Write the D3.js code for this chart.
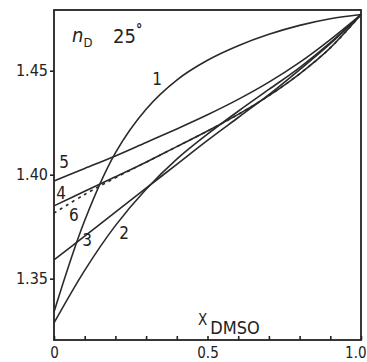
<!DOCTYPE html>
<html>
<head>
<meta charset="utf-8">
<script src="https://cdnjs.cloudflare.com/ajax/libs/d3/7.8.5/d3.min.js"></script>
<style>
  body { margin: 0; background: #fff; }
  text { font-family: "Liberation Sans Narrow", "DejaVu Sans Condensed", sans-serif; fill: #222; }
</style>
</head>
<body>
<div id="chart"></div>
<script>
////////////////////////////////////////////////////////////////
// Data (mole fraction of DMSO vs refractive index n_D at 25 C)

var xDMSO = [0, 0.1, 0.2, 0.3, 0.4, 0.5, 0.6, 0.7, 0.8, 0.9, 1.0];

var nD1 = [1.334, 1.378, 1.4105, 1.4315, 1.4455, 1.455, 1.462, 1.4675, 1.4718, 1.475, 1.477];
var nD2 = [1.3287, 1.354, 1.3755, 1.393, 1.4075, 1.4195, 1.4305, 1.441, 1.4515, 1.4635, 1.477];
var nD3 = [1.359, 1.3705, 1.382, 1.3935, 1.405, 1.4165, 1.4275, 1.4385, 1.4505, 1.463, 1.477];
var nD4 = [1.385, 1.392, 1.399, 1.406, 1.4135, 1.421, 1.429, 1.438, 1.4485, 1.461, 1.477];
var nD5 = [1.397, 1.403, 1.409, 1.4155, 1.422, 1.4288, 1.4362, 1.4445, 1.454, 1.465, 1.477];
var nD6 = [1.3815, 1.3905, 1.3985, 1.406, 1.4135, 1.421, 1.429, 1.438, 1.4485, 1.461, 1.477];

var curveNames = ["1", "2", "3", "4", "5", "6"];
var yTicks = [1.35, 1.40, 1.45];
var xTicks = [0, 0.1, 0.2, 0.3, 0.4, 0.5, 0.6, 0.7, 0.8, 0.9, 1.0];
var xTickLabels = { "0": "0", "0.5": "0.5", "1": "1.0" };

////////////////////////////////////////////////////////////////
// Basic parameters

var svgWidth = 367;
var svgHeight = 362;
var margin = { top: 10, right: 6, bottom: 22, left: 54 };
var width = svgWidth - margin.left - margin.right;
var height = svgHeight - margin.top - margin.bottom;

var svg = d3.select("#chart")
    .append("svg")
    .attr("width", svgWidth)
    .attr("height", svgHeight);

var chart = svg.append("g")
    .attr("transform", `translate(${margin.left}, ${margin.top})`);

var xScale = d3.scaleLinear().domain([0, 1]).range([0, width]);
var yScale = d3.scaleLinear().domain([1.3205, 1.4792]).range([height, 0]);

////////////////////////////////////////////////////////////////
// Axes

var leftAxis = d3.axisLeft(yScale)
    .tickValues(yTicks)
    .tickSize(4)
    .tickSizeOuter(0)
    .tickPadding(2)
    .tickFormat(d3.format(".2f"));

var bottomAxis = d3.axisBottom(xScale)
    .tickValues(xTicks)
    .tickSize(-4)
    .tickSizeOuter(0)
    .tickPadding(7)
    .tickFormat(d => xTickLabels[String(+d.toFixed(1))] || "");

var yAxis = chart.append("g").call(leftAxis);
var xAxis = chart.append("g").attr("transform", `translate(0, ${height})`).call(bottomAxis);

[xAxis, yAxis].forEach(function (ax) {
    ax.select(".domain").remove();
    ax.selectAll("line").attr("stroke", "#222").attr("stroke-width", 1.6);
    ax.selectAll("text").attr("font-size", 16).attr("fill", "#222")
        .attr("font-family", "'Liberation Sans Narrow', 'DejaVu Sans Condensed', sans-serif");
});
xAxis.selectAll("text").attr("font-size", 15);
// keep the "1.0" label inside the picture
xAxis.selectAll(".tick").filter(d => d === 1.0).select("text")
    .attr("text-anchor", "end")
    .attr("x", svgWidth - margin.left - width - 1);

// frame
chart.append("rect")
    .attr("x", 0)
    .attr("y", 0)
    .attr("width", width)
    .attr("height", height)
    .attr("fill", "none")
    .attr("stroke", "#222")
    .attr("stroke-width", 1.8);

////////////////////////////////////////////////////////////////
// Curves

var series = [nD1, nD2, nD3, nD4, nD5, nD6];

var line = d3.line()
    .x(d => xScale(d[0]))
    .y(d => yScale(d[1]))
    .curve(d3.curveCatmullRom.alpha(0.5));

series.forEach(function (vals, i) {
    var pts = xDMSO.map((x, j) => [x, vals[j]]);
    chart.append("path")
        .datum(pts)
        .attr("d", line)
        .attr("fill", "none")
        .attr("stroke", "#2a2a2a")
        .attr("stroke-width", 1.6)
        .attr("stroke-dasharray", curveNames[i] === "6" ? "3,4" : null);
});

////////////////////////////////////////////////////////////////
// Curve labels

var labelAt = [
    [0.3355, 1.4463],
    [0.228, 1.3719],
    [0.1075, 1.3685],
    [0.0228, 1.3911],
    [0.0326, 1.4060],
    [0.065, 1.3805]
];

curveNames.forEach(function (name, i) {
    chart.append("text")
        .attr("x", xScale(labelAt[i][0]))
        .attr("y", yScale(labelAt[i][1]))
        .attr("dy", "0.36em")
        .attr("text-anchor", "middle")
        .attr("font-size", 17)
        .text(name);
});

////////////////////////////////////////////////////////////////
// Titles

var nLabel = chart.append("text")
    .attr("x", 18)
    .attr("y", 32)
    .attr("font-size", 20);
nLabel.append("tspan").attr("font-style", "italic").text("n");
nLabel.append("tspan").attr("font-size", 13).attr("dy", 5).text("D");

var tLabel = chart.append("text")
    .attr("x", 59)
    .attr("y", 33)
    .attr("font-size", 20)
    .text("25");
tLabel.append("tspan").attr("font-size", 14).attr("dy", -9).attr("font-weight", "bold").text("°");

var xLabel = chart.append("text")
    .attr("x", 144)
    .attr("y", 315)
    .attr("font-size", 15)
    .text("X");
xLabel.append("tspan").attr("font-size", 18).attr("dy", 9).attr("dx", 3).text("DMSO");
</script>
</body>
</html>
